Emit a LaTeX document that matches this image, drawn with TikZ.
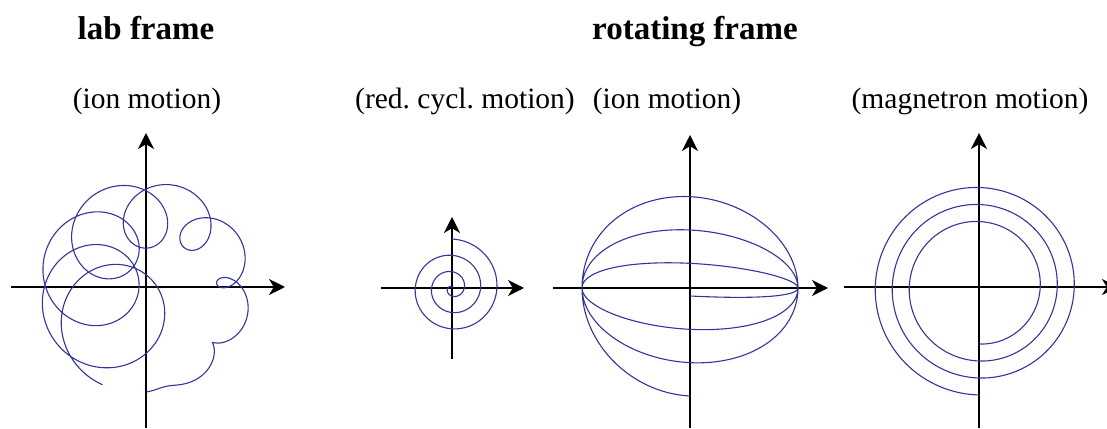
\documentclass[tikz,border=0pt]{standalone}
\usepackage{fontspec}
\setmainfont{Liberation Serif}
\usepackage{tikz}
\usetikzlibrary{arrows.meta,positioning}
\definecolor{ionblue}{RGB}{52, 52, 156}
\frenchspacing

\begin{document}
\begin{tikzpicture}[x=0.5pt, y=0.5pt,
        axis/.style={-{Stealth[length=8pt, width=8pt, inset=2.4pt]}, line width=1pt, black},
        orbit/.style={ionblue, line width=0.55pt},
        frametitle/.style={font=\fontsize{16.5}{20}\selectfont\bfseries, anchor=base},
        motiontitle/.style={font=\fontsize{14.75}{18}\selectfont, anchor=base}
    ]
        \useasboundingbox (0,0) rectangle (1107,428);
        \node[frametitle] (labframe) at (146,388) {lab frame};
        \node[frametitle] (rotframe) at (695,388) {rotating frame};
        \node[motiontitle] (labion) at (147,319) {(ion motion)};
        \node[motiontitle] (redcycl) at (465,319) {(red. cycl. motion)};
        \node[motiontitle] (rotion) at (667,319) {(ion motion)};
        \node[motiontitle] (magmotion) at (970,319) {(magnetron motion)};
        % lab frame: magnetron + reduced cyclotron
        \begin{scope}[shift={(146,141)}]
            \draw[axis] (-135,0) -- (139,0);
            \draw[axis] (0,-141) -- (0,154);
            \draw[orbit] plot[smooth, domain=0:1, samples=900, variable=\s]
                ({(45+60*\s)*cos(246-336*\s)+62*(1-\s)*cos(246-3085*\s)},
                 {(45+60*\s)*sin(246-336*\s)+62*(1-\s)*sin(246-3085*\s)});
        \end{scope}
        % reduced cyclotron
        \begin{scope}[shift={(452,140)}]
            \draw[axis] (-71,0) -- (72,0);
            \draw[axis] (0,-71) -- (0,71);
            \draw[orbit] plot[smooth, domain=0:1080, samples=220, variable=\t]
                ({49*(1-\t/1080)*sin(\t)}, {49*(1-\t/1080)*cos(\t)});
        \end{scope}
        % ion motion, rotating frame
        \begin{scope}[shift={(690,140)}]
            \draw[axis] (-137,0) -- (138,0);
            \draw[axis] (0,-140) -- (0,153);
            \draw[orbit] plot[smooth, domain=0:1080, samples=300, variable=\t]
                ({108*sin(\t)}, {-(8+\t/10.8)*cos(\t)});
        \end{scope}
        % magnetron
        \begin{scope}[shift={(979,141)}]
            \draw[axis] (-135,0) -- (139,0);
            \draw[axis] (0,-141) -- (0,154);
            \draw[orbit] plot[smooth, domain=0:1080, samples=300, variable=\t]
                ({(57+0.04722*\t)*sin(\t)}, {-(57+0.04722*\t)*cos(\t)});
        \end{scope}
    \end{tikzpicture}
\end{document}
